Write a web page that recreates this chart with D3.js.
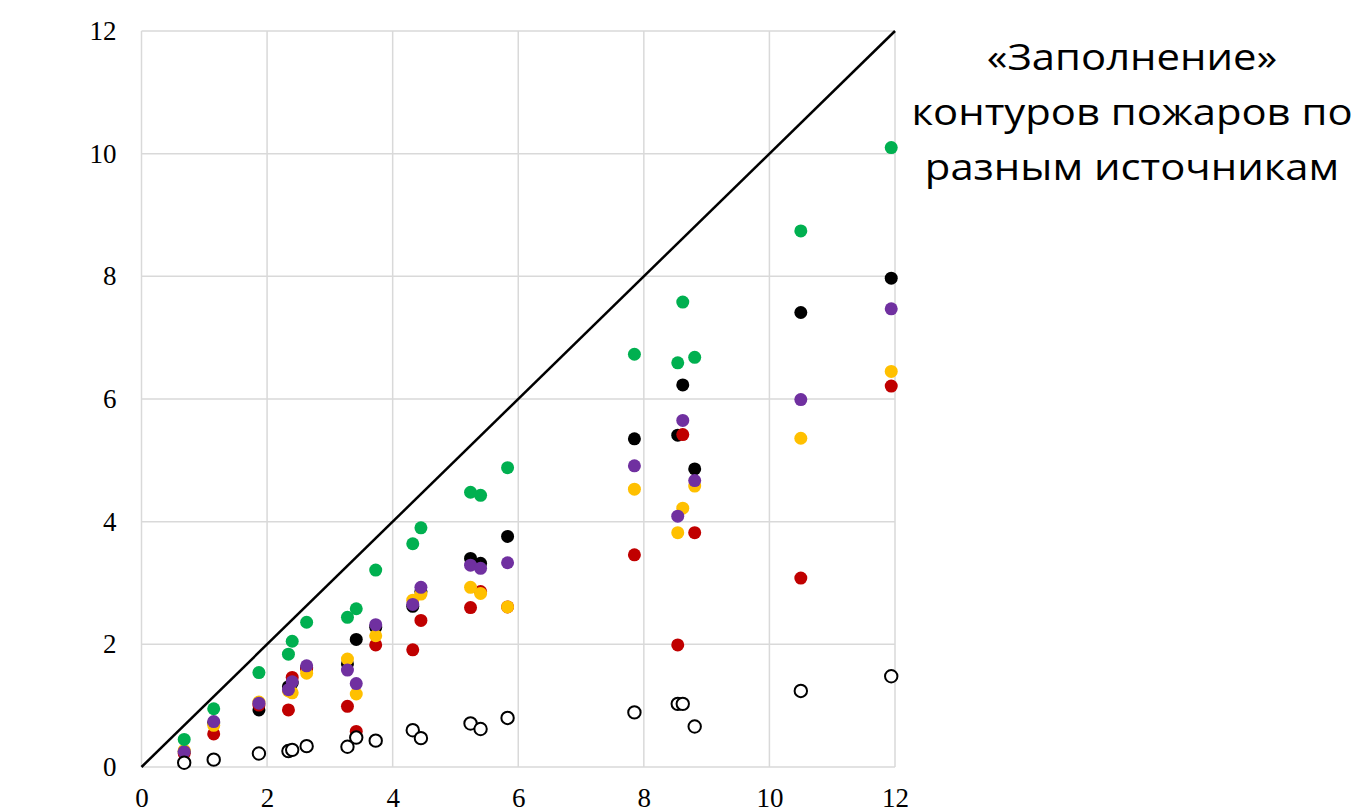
<!DOCTYPE html>
<html>
<head>
<meta charset="utf-8">
<script src="https://cdn.jsdelivr.net/npm/d3@7"></script>
<style>
  body { margin: 0; background: white; }
</style>
</head>
<body>
<div id="fire-fill"></div>
<script>
// reference fire area (x) and area filled by each source (y)
var fireArea = [0.68, 1.15, 1.87, 2.34, 2.40, 2.63, 3.28, 3.42, 3.73, 4.32, 4.45, 5.24, 5.40, 5.83, 7.85, 8.54, 8.62, 8.81, 10.50, 11.94]
var greenValues = [0.45, 0.95, 1.54, 1.84, 2.05, 2.36, 2.44, 2.58, 3.21, 3.64, 3.90, 4.48, 4.43, 4.88, 6.73, 6.59, 7.58, 6.68, 8.74, 10.10]
var blackValues = [0.25, 0.72, 0.93, 1.31, 1.37, 1.62, 1.68, 2.08, 2.28, 2.62, 2.86, 3.40, 3.32, 3.76, 5.35, 5.41, 6.23, 4.86, 7.41, 7.97]
var redValues = [0.22, 0.54, 1.01, 0.93, 1.46, 1.60, 0.99, 0.58, 1.99, 1.91, 2.39, 2.60, 2.86, 2.61, 3.46, 1.99, 5.42, 3.82, 3.08, 6.21]
var yellowValues = [0.27, 0.68, 1.06, 1.24, 1.21, 1.53, 1.76, 1.19, 2.14, 2.72, 2.82, 2.93, 2.83, 2.61, 4.53, 3.82, 4.22, 4.58, 5.36, 6.45]
var purpleValues = [0.25, 0.74, 1.04, 1.26, 1.39, 1.65, 1.58, 1.36, 2.32, 2.65, 2.93, 3.29, 3.24, 3.33, 4.91, 4.09, 5.65, 4.67, 5.99, 7.47]
var openValues = [0.07, 0.12, 0.22, 0.26, 0.28, 0.34, 0.33, 0.48, 0.43, 0.60, 0.47, 0.71, 0.62, 0.80, 0.89, 1.03, 1.03, 0.66, 1.24, 1.48]
var tickValues = [0, 2, 4, 6, 8, 10, 12]
var titleLines = ['«Заполнение»', 'контуров пожаров по', 'разным источникам']

// series in drawing order, bottom first
var series = [
  { values: blackValues, fill: '#000000', stroke: 'none' },
  { values: redValues, fill: '#C00000', stroke: 'none' },
  { values: yellowValues, fill: '#FFC000', stroke: 'none' },
  { values: purpleValues, fill: '#7030A0', stroke: 'none' },
  { values: greenValues, fill: '#00B050', stroke: 'none' },
  { values: openValues, fill: 'white', stroke: 'black' }
]

var fill_width = 1355
var fill_height = 812
var fill_margin = { top: 31, bottom: 45, left: 141.5, right: 460 }

var fill_svg = d3
  .select('#fire-fill')
  .append('svg')
  .attr('width', fill_width)
  .attr('height', fill_height)

var fill_x = d3
  .scaleLinear()
  .domain([0, 12])
  .range([fill_margin.left, fill_width - fill_margin.right])

var fill_y = d3
  .scaleLinear()
  .domain([0, 12])
  .range([fill_height - fill_margin.bottom, fill_margin.top])

// grid
fill_svg
  .append('g')
  .selectAll('line')
  .data(tickValues)
  .enter()
  .append('line')
  .attr('x1', d => fill_x(d))
  .attr('x2', d => fill_x(d))
  .attr('y1', fill_y(0))
  .attr('y2', fill_y(12))
  .attr('stroke', '#d9d9d9')
  .attr('stroke-width', 1.5)

fill_svg
  .append('g')
  .selectAll('line')
  .data(tickValues)
  .enter()
  .append('line')
  .attr('x1', fill_x(0))
  .attr('x2', fill_x(12))
  .attr('y1', d => fill_y(d))
  .attr('y2', d => fill_y(d))
  .attr('stroke', '#d9d9d9')
  .attr('stroke-width', 1.5)

// axes, labels only
var x_axis = fill_svg
  .append('g')
  .attr('transform', 'translate(0,' + fill_y(0) + ')')
  .call(d3.axisBottom(fill_x).tickValues(tickValues).tickSize(0).tickPadding(21))

var y_axis = fill_svg
  .append('g')
  .attr('transform', 'translate(' + fill_x(0) + ',0)')
  .call(d3.axisLeft(fill_y).tickValues(tickValues).tickSize(0).tickPadding(25))

fill_svg.selectAll('.domain').remove()
fill_svg
  .selectAll('.tick text')
  .attr('font-family', '"Liberation Serif", "Times New Roman", serif')
  .attr('font-size', 27)
  .attr('fill', 'black')

// y = x line
fill_svg
  .append('line')
  .attr('x1', fill_x(0))
  .attr('y1', fill_y(0))
  .attr('x2', fill_x(12))
  .attr('y2', fill_y(12))
  .attr('stroke', 'black')
  .attr('stroke-width', 2.5)

// points
series.forEach(s => {
  fill_svg
    .append('g')
    .selectAll('circle')
    .data(s.values)
    .enter()
    .append('circle')
    .attr('cx', (d, i) => fill_x(fireArea[i]))
    .attr('cy', d => fill_y(d))
    .attr('r', s.stroke === 'none' ? 6.5 : 6.2)
    .attr('fill', s.fill)
    .attr('stroke', s.stroke)
    .attr('stroke-width', 2)
})

// title on the right, text is a bit wider than the font
fill_svg
  .append('g')
  .selectAll('text')
  .data(titleLines)
  .enter()
  .append('text')
  .attr('transform', (d, i) => 'translate(1132,' + (70 + i * 55) + ') scale(1.13,1)')
  .attr('text-anchor', 'middle')
  .attr('font-family', '"Open Sans", sans-serif')
  .attr('font-size', 37)
  .attr('fill', 'black')
  .text(d => d)
</script>
</body>
</html>
